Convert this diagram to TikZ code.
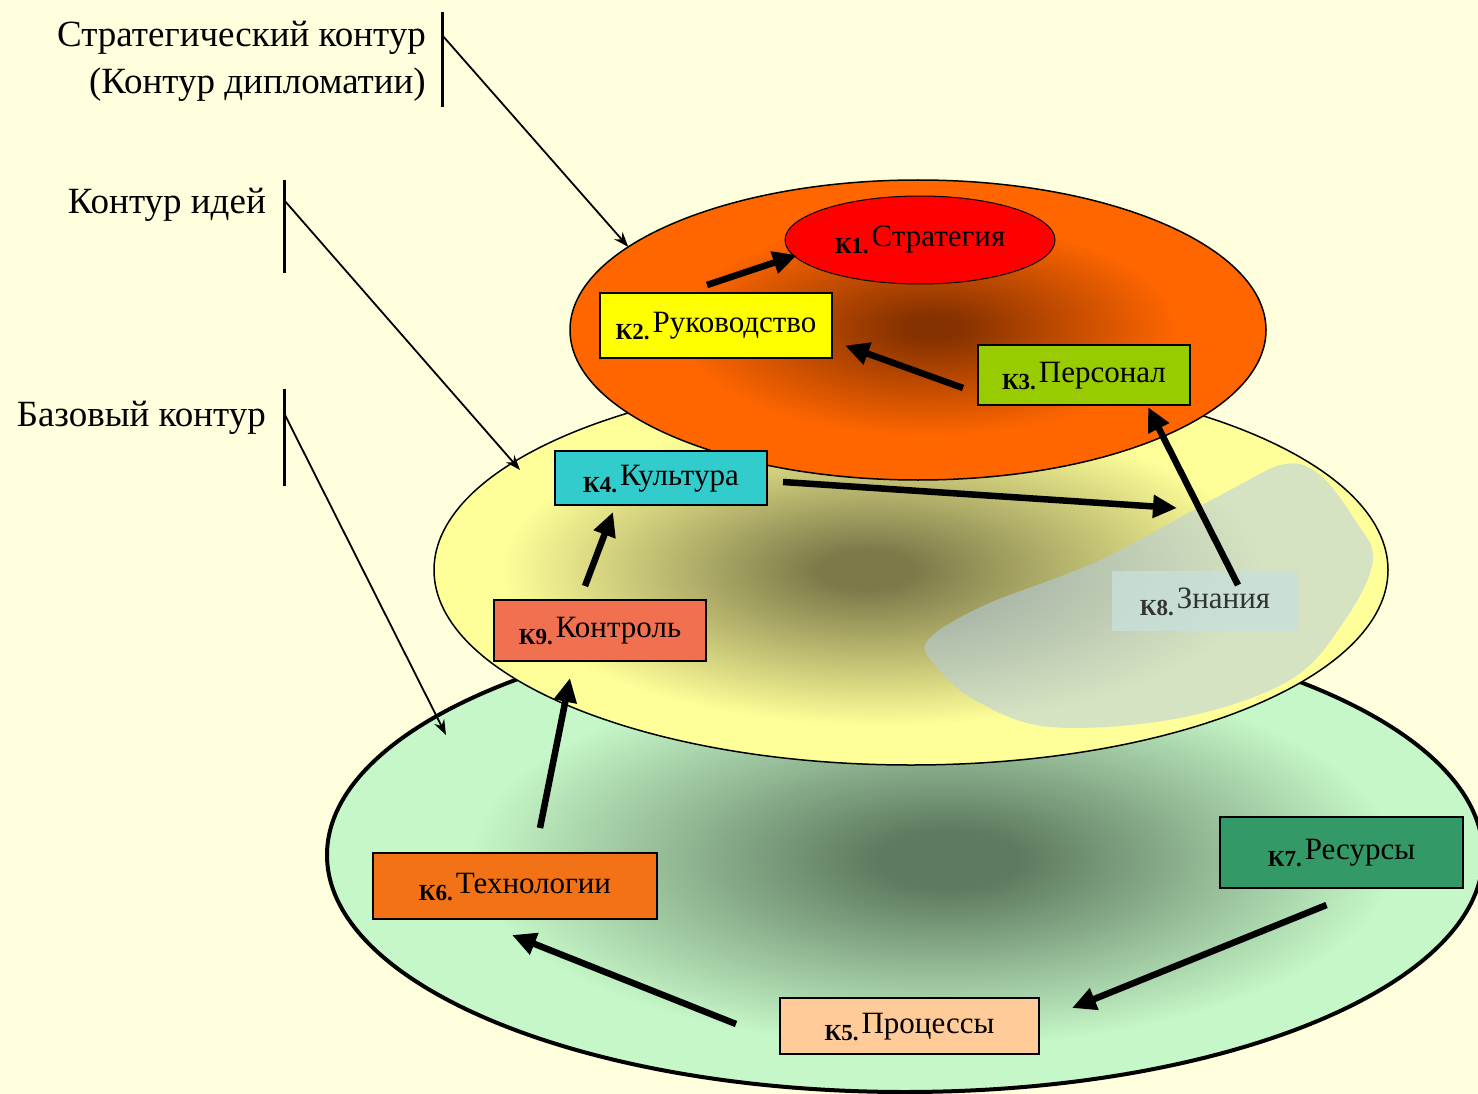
\documentclass[tikz,border=0pt]{standalone}
\usepackage{fontspec}
\setmainfont{Liberation Serif}
\usetikzlibrary{shapes.geometric,arrows.meta}
\definecolor{bgcol}{HTML}{FFFFDD}
\definecolor{gcen}{HTML}{5E7A60}
\definecolor{gout}{HTML}{C6F7C8}
\definecolor{ycen}{HTML}{7D7A4A}
\definecolor{yout}{HTML}{FFFF99}
\definecolor{ocen}{HTML}{863200}
\definecolor{oout}{HTML}{FF6600}
\definecolor{k2col}{HTML}{FFFF00}
\definecolor{k3col}{HTML}{99CC00}
\definecolor{k4col}{HTML}{33CCCC}
\definecolor{k9col}{HTML}{F07050}
\definecolor{k8col}{HTML}{C8E0DA}
\definecolor{k6col}{HTML}{F47216}
\definecolor{k7col}{HTML}{339966}
\definecolor{k5col}{HTML}{FFCC99}
\definecolor{blobcol}{RGB}{180,205,228}
\pgfdeclareradialshading{greensh}{\pgfpoint{2bp}{-0.5bp}}{color(0bp)=(gcen); color(3bp)=(gcen); color(20bp)=(gout); color(25bp)=(gout); color(50bp)=(gout)}
\pgfdeclareradialshading{yelsh}{\pgfpoint{-2.5bp}{0bp}}{color(0bp)=(ycen); color(2.5bp)=(ycen); color(20bp)=(yout); color(25bp)=(yout); color(50bp)=(yout)}
\pgfdeclareradialshading{orsh}{\pgfpoint{1bp}{0.5bp}}{color(0bp)=(ocen); color(2bp)=(ocen); color(18bp)=(oout); color(25bp)=(oout); color(50bp)=(oout)}
\newcommand\kbox[2]{{\fontsize{23}{23}\selectfont\bfseries\raisebox{-7pt}{#1}}\kern3pt#2}
\begin{document}
\begin{tikzpicture}[x=1pt,y=-1pt,
  box/.style={draw=black, line width=1.5pt, inner sep=0pt, outer sep=0pt,
    text height=22pt, text depth=8pt, font=\fontsize{31}{36}\selectfont},
  bigarrow/.style={line width=6.5pt, -{Triangle[length=24pt,width=22pt]}},
  thinarrow/.style={line width=1.8pt, -{Stealth[length=15pt,width=11pt]}},
  bar/.style={line width=3pt},
  lab/.style={font=\fontsize{37}{42}\selectfont, inner sep=0pt, anchor=base east},
  ell/.style={ellipse, draw, inner sep=0pt, outer sep=0pt}]
\fill[bgcol] (0,0) rectangle (1478,1094);
\useasboundingbox (0,0) rectangle (1478,1094);

% ellipses
\node[ell, line width=4pt, minimum width=1156pt, minimum height=474pt, shade, shading=greensh] (base) at (905,855) {};
\node[ell, line width=1.5pt, minimum width=954pt, minimum height=390pt, shade, shading=yelsh] (ideas) at (911,570) {};
\begin{scope}
  \clip (911,570) ellipse [x radius=474, y radius=192];
  \fill[blobcol, opacity=0.55] plot[smooth cycle, tension=0.6] coordinates {
    (928,640) (985,605) (1100,560) (1230,490) (1285,464) (1320,475)
    (1355,520) (1373,560) (1345,620) (1290,680) (1180,718) (1050,727)
    (975,700) (935,665)};
\end{scope}
\node[ell, line width=1.5pt, minimum width=696pt, minimum height=300pt, shade, shading=orsh] (strat) at (918,330) {};
\node[ell, line width=1pt, fill=red, minimum width=270pt, minimum height=88pt,
  text height=22pt, text depth=8pt, font=\fontsize{31}{36}\selectfont] (k1) at (920,240) {\kbox{К1.}{Стратегия}};

% boxes
\node[box, fill=k2col, minimum width=232pt, minimum height=65pt] (k2) at (716,325.5) {\kbox{К2.}{Руководство}};
\node[box, fill=k3col, minimum width=212pt, minimum height=60pt] (k3) at (1084,375) {\kbox{К3.}{Персонал}};
\node[box, fill=k4col, minimum width=212pt, minimum height=54pt] (k4) at (661,478) {\kbox{К4.}{Культура}};
\node[box, fill=k9col, minimum width=212pt, minimum height=61pt] (k9) at (600,630.5) {\kbox{К9.}{Контроль}};
\node[box, draw=none, fill=k8col, fill opacity=0.8, text opacity=1, text=black!80, minimum width=186pt, minimum height=60pt] (k8) at (1205,601) {\kbox{К8.}{Знания}};
\node[box, fill=k6col, minimum width=284pt, minimum height=66pt] (k6) at (515,886) {\kbox{К6.}{Технологии}};
\node[box, fill=k7col, minimum width=243pt, minimum height=71pt] (k7) at (1341.5,852.5) {\kbox{К7.}{Ресурсы}};
\node[box, fill=k5col, minimum width=259pt, minimum height=56pt] (k5) at (909.5,1026) {\kbox{К5.}{Процессы}};

% thick arrows
\draw[bigarrow] ([shift={(-9,-8)}]k2.north) -- ([shift={(-123,15)}]k1.center);
\draw[bigarrow] ([shift={(-15,13)}]k3.west) -- ([shift={(13,20)}]k2.east);
\draw[bigarrow] ([shift={(16,4)}]k4.east) -- ([shift={(65,-63)}]k8.north west);
\draw[bigarrow] ([shift={(33,14)}]k8.north) -- ([shift={(64,2)}]k3.south);
\draw[bigarrow] ([shift={(-15,-14)}]k9.north) -- ([shift={(-48,7)}]k4.south);
\draw[bigarrow] ([shift={(25,-25)}]k6.north) -- ([shift={(-30,17)}]k9.south);
\draw[bigarrow] ([shift={(-44,-2)}]k5.west) -- ([shift={(-3,16)}]k6.south);
\draw[bigarrow] ([shift={(-15,17)}]k7.south) -- ([shift={(33,-18)}]k5.east);

% labels
\node[lab] (l1a) at (426,47) {Стратегический контур};
\node[lab] (l1b) at (426,94) {(Контур дипломатии)};
\node[lab] (l2) at (266,214) {Контур идей};
\node[lab] (l3) at (266,426) {Базовый контур};

\coordinate (b1t) at (442,12);  \coordinate (b1b) at (442,107); \coordinate (b1s) at (442,35);
\coordinate (b2t) at (284,180); \coordinate (b2b) at (284,273); \coordinate (b2s) at (284,200);
\coordinate (b3t) at (284,389); \coordinate (b3b) at (284,486); \coordinate (b3s) at (284,413);
\coordinate (t2) at (520,470);
\coordinate (t3) at (446,735);
\draw[bar] (b1t) -- (b1b);
\draw[bar] (b2t) -- (b2b);
\draw[bar] (b3t) -- (b3b);
\draw[thinarrow] (b1s) -- (strat.164);
\draw[thinarrow] (b2s) -- (t2);
\draw[thinarrow] (b3s) -- (t3);
\end{tikzpicture}
\end{document}
